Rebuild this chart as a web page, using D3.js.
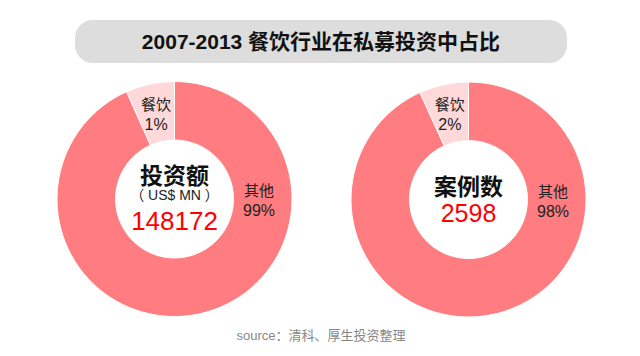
<!DOCTYPE html>
<html><head><meta charset="utf-8">
<script src="https://cdn.jsdelivr.net/npm/d3@7"></script>
<style>
html,body{margin:0;padding:0;background:#fff;}
svg{display:block;font-family:"Liberation Sans","Noto Sans CJK SC",sans-serif;}
</style></head>
<body>
<svg id="c" width="640" height="356"></svg>
<script>
const title = "2007-2013 餐饮行业在私募投资中占比";
const source = "source：清科、厚生投资整理";
const categories = ["餐饮", "其他"];
// percentages shown on labels
const investPct = [1, 99];
const casePct = [2, 98];
// slice sizes as drawn in the picture (estimated)
const investDrawn = [6.7, 93.3];
const caseDrawn = [6.8, 93.2];
const investTitle = "投资额";
const investUnit = "（ US$ MN ）";
const investTotal = 148172;
const caseTitle = "案例数";
const caseTotal = 2598;

const svg = d3.select("#c");
const colors = d3.scaleOrdinal().domain(categories).range(["#ffd9da", "#ff7c80"]);

// title box
svg.append("rect").attr("x", 75).attr("y", 20).attr("width", 492).attr("height", 43)
  .attr("rx", 18).attr("fill", "#dddddd");
svg.append("text").attr("x", 321).attr("y", 49).attr("text-anchor", "middle")
  .attr("font-size", 21).attr("font-weight", "bold").attr("fill", "#111").text(title);

const outerR = 117.5, innerR = 59;
const pie = d3.pie().sort(null).value(d => d.v);
const arc = d3.arc().innerRadius(innerR).outerRadius(outerR);
const labelArc = d3.arc().innerRadius(innerR).outerRadius(outerR);

function donut(cx, cy, drawn, pct) {
  const g = svg.append("g").attr("transform", `translate(${cx},${cy})`);
  const data = categories.map((c, i) => ({c, v: drawn[i], p: pct[i]}));
  const total = d3.sum(drawn);
  const start = -2 * Math.PI * drawn[0] / total;
  const arcs = pie.startAngle(start).endAngle(start + 2 * Math.PI)(data);
  g.selectAll("path").data(arcs).join("path")
    .attr("d", arc).attr("fill", d => colors(d.data.c))
    .attr("stroke", "#fff").attr("stroke-width", 1);
  arcs.forEach((a, i) => {
    let x, y;
    if (i === 0) {
      [x, y] = labelArc.centroid(a);
    } else {
      x = 84.5; y = 0;
    }
    const t = g.append("text").attr("text-anchor", "middle").attr("fill", "#222").attr("font-size", 16);
    t.append("tspan").attr("x", x).attr("y", y - 3).attr("font-size", 15).text(a.data.c);
    t.append("tspan").attr("x", x).attr("y", y + 17).text(a.data.p + "%");
  });
  return g;
}

const g1 = donut(174.5, 199, investDrawn, investPct);
g1.append("text").attr("text-anchor", "middle").attr("y", -15).attr("font-size", 23)
  .attr("font-weight", "bold").attr("fill", "#111").text(investTitle);
g1.append("text").attr("text-anchor", "middle").attr("y", 1).attr("font-size", 14)
  .attr("fill", "#222").text(investUnit);
g1.append("text").attr("text-anchor", "middle").attr("y", 31).attr("font-size", 26)
  .attr("fill", "#ff0000").text(investTotal);

const g2 = donut(468.5, 199.5, caseDrawn, casePct);
g2.append("text").attr("text-anchor", "middle").attr("y", -5).attr("font-size", 23)
  .attr("font-weight", "bold").attr("fill", "#111").text(caseTitle);
g2.append("text").attr("text-anchor", "middle").attr("y", 22.5).attr("font-size", 25)
  .attr("fill", "#ff0000").text(caseTotal);

svg.append("text").attr("x", 321).attr("y", 340).attr("text-anchor", "middle")
  .attr("font-size", 13).attr("fill", "#888").text(source);
</script>
</body></html>
